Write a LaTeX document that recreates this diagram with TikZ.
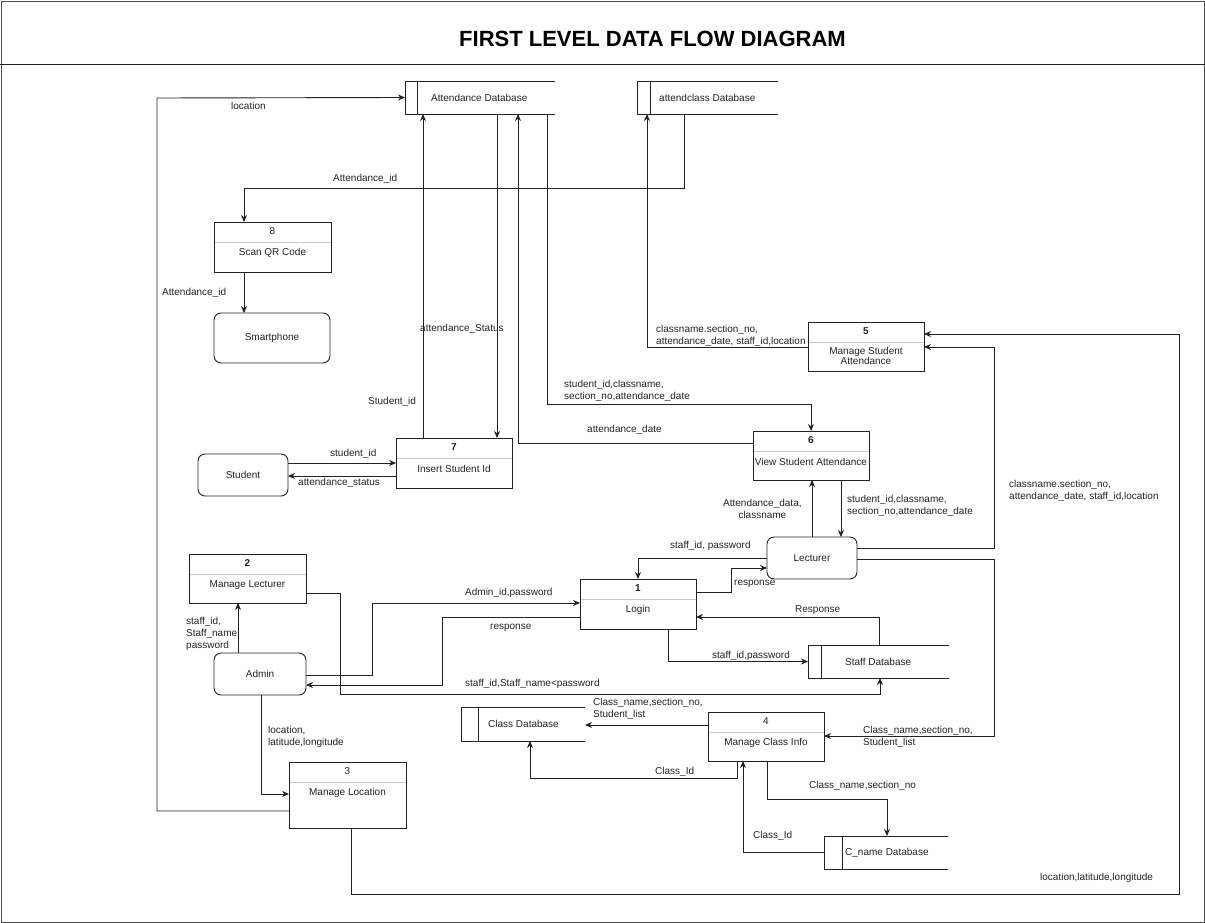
\documentclass[tikz,border=0pt]{standalone}
\usepackage{fontspec}
\setmainfont{Liberation Sans}
\usetikzlibrary{arrows.meta,calc}

\definecolor{ink}{HTML}{222222}
\definecolor{divgray}{HTML}{C8C8C8}

\tikzset{
  every node/.style={font=\fontsize{10}{12}\selectfont, text=ink},
  flow/.style={draw=ink, line width=0.9pt, -{Stealth[length=7pt,width=6pt]}},
  procbox/.style={draw=ink, line width=0.9pt, rectangle, inner sep=0pt, outer sep=0pt},
  entity/.style={draw=ink, line width=0.9pt, rectangle, rounded corners=7pt, inner sep=0pt, outer sep=0pt},
  storebox/.style={rectangle, inner sep=0pt, outer sep=0pt},
  divline/.style={draw=divgray, line width=0.9pt},
  lbl/.style={anchor=west, inner sep=0pt, align=left},
}

% process: name, cx, cy, width, height, number, title
\newcommand\dfdproc[7]{%
  \node[procbox, minimum width=#4pt, minimum height=#5pt] (#1) at (#2,#3) {};
  \draw[divline] ([yshift=-20pt,xshift=0.5pt]#1.north west) -- ([yshift=-20pt,xshift=-0.5pt]#1.north east);
  \node[inner sep=0pt] (#1-num) at ([yshift=-9.5pt]#1.north) {#6};
  \node[inner sep=0pt, align=center] (#1-title) at ([yshift=-31pt]#1.north) {#7};
}
% data store: name, cx, cy, width, height, inner offset, text x, text
\newcommand\dfdstore[8]{%
  \node[storebox, minimum width=#4pt, minimum height=#5pt] (#1) at (#2,#3) {};
  \draw[ink, line width=0.9pt] (#1.north east) -- (#1.north west) -- (#1.south west) -- (#1.south east);
  \draw[ink, line width=0.9pt] ([xshift=#6pt]#1.north west) -- ([xshift=#6pt]#1.south west);
  \node[lbl] (#1-text) at (#7,#3) {#8};
}

\begin{document}
\begin{tikzpicture}[x=1pt,y=-1pt]
\useasboundingbox (0,0) rectangle (1205,923);
\draw[ink!80, line width=0.8pt] (1,1) rectangle (1204,922);

% heading
\node[font=\fontsize{22}{26}\selectfont\bfseries, text=black] (title) at (652.5,39) {FIRST LEVEL DATA FLOW DIAGRAM};
\draw[ink, line width=0.9pt] (0,64) -- (1205,64);

% data stores
\dfdstore{adb}{480}{97.5}{150}{33}{12}{431}{Attendance Database}
\dfdstore{acdb}{707.5}{97.5}{141}{33}{13}{659}{attendclass Database}
\dfdstore{sdb}{878.5}{661.5}{141}{33}{13}{845}{Staff Database}
\dfdstore{cdb}{523}{724}{124}{34}{17}{488}{Class Database}
\dfdstore{cndb}{886}{852.5}{124}{33}{18}{845}{C\_name Database}

% processes
\dfdproc{p8}{272.5}{247}{117}{50}{8}{Scan QR Code}
\dfdproc{p7}{454}{463}{116}{50}{\textbf{7}}{Insert Student Id}
\node[procbox, minimum width=116pt, minimum height=49pt] (p5) at (866,346.5) {};
\draw[divline] ([yshift=-20pt,xshift=0.5pt]p5.north west) -- ([yshift=-20pt,xshift=-0.5pt]p5.north east);
\node[inner sep=0pt] (p5-num) at ([yshift=-9pt]p5.north) {\textbf{5}};
\node[inner sep=0pt, align=center, font=\fontsize{10}{9}\selectfont] (p5-title) at ([yshift=-34pt]p5.north) {Manage Student\\Attendance};
\dfdproc{p6}{811}{455.5}{116}{49}{\textbf{6}}{View Student Attendance}
\dfdproc{p1}{638}{604}{116}{50}{\textbf{1}}{Login}
\dfdproc{p2}{247.5}{578.5}{117}{49}{\textbf{2}}{Manage Lecturer}
\dfdproc{p3}{347.5}{795}{117}{66}{3}{Manage Location}
\dfdproc{p4}{766}{736.5}{116}{49}{4}{Manage Class Info}

% external entities
\node[entity, minimum width=116pt, minimum height=50pt] (sp) at (272,338) {Smartphone};
\node[entity, minimum width=90pt, minimum height=42pt] (stu) at (243,475) {Student};
\node[entity, minimum width=92pt, minimum height=42pt] (adm) at (260,674) {Admin};
\node[entity, minimum width=90pt, minimum height=42pt] (lec) at (812,558) {Lecturer};

% flows
\draw[flow] (p3.west |- 0,811) -- (157,811) -- (157,98) -- (adb.west);
\node[lbl] (l-loc) at (231,106) {location};

\draw[flow] (acdb.south -| 684,0) |- (244,188) -- (p8.north -| 244,0);
\node[lbl] (l-aid1) at (333,179) {Attendance\_id};

\draw[flow] (p8.south -| 244,0) -- (sp.north -| 244,0);
\node[lbl] (l-aid2) at (162,293) {Attendance\_id};

\draw[flow] (p7.north -| 423,0) -- (adb.south -| 423,0);
\node[lbl] (l-sid) at (368,402) {Student\_id};

\draw[flow] (adb.south -| 497,0) -- (p7.north -| 497,0);
\node[lbl] (l-ast) at (420,329) {attendance\_Status};

\draw[flow] (p6.west |- 0,443) -| (adb.south -| 518,0);
\node[lbl] (l-adate) at (587,430) {attendance\_date};

\draw[flow] (adb.south -| 547,0) -- (547,404) -| (p6.north);
\node[lbl] (l-sc1) at (564,391) {student\_id,classname,\\section\_no,attendance\_date};

\draw[flow] (p5.west |- 0,347) -| (acdb.south -| 647,0);
\node[lbl] (l-cs1) at (656,336) {classname.section\_no,\\attendance\_date, staff\_id,location};

\draw[flow] (lec.east |- 0,548) -| (994,347) -- (p5.east |- 0,347);
\node[lbl] (l-cs2) at (1009,491) {classname.section\_no,\\attendance\_date, staff\_id,location};

\draw[flow] (p3.south -| 351,0) |- (1179,894) -- (1179,334) -- (p5.east |- 0,334);
\node[lbl] (l-lll) at (1040,878) {location,latitude,longitude};

\draw[flow] (lec.north -| 812,0) -- (p6.south -| 812,0);
\node[anchor=west, inner sep=0pt, align=center] (l-adata) at (723,509) {Attendance\_data,\\ classname};

\draw[flow] (p6.south -| 841,0) -- (lec.north -| 841,0);
\node[lbl] (l-sc2) at (847,506) {student\_id,classname,\\section\_no,attendance\_date};

\draw[flow] (lec.west) -| (p1.north);
\node[lbl] (l-sp1) at (670,546) {staff\_id, password};

\draw[flow] (p1.east |- 0,592) -| (731,568) -- (lec.west |- 0,568);
\node[lbl] (l-resp1) at (734,584) {response};

\draw[flow] (sdb.north -| 879,0) |- (p1.east |- 0,617);
\node[lbl] (l-resp2) at (795,610) {Response};

\draw[flow] (p1.south -| 668,0) |- (sdb.west);
\node[lbl] (l-sp2) at (712,656) {staff\_id,password};

\draw[flow] (p2.east |- 0,593) -| (340,694) -| (sdb.south -| 880,0);
\node[lbl] (l-ssp) at (465,684) {staff\_id,Staff\_name<password};

\draw[flow] (adm.east |- 0,675) -| (372,603) -- (p1.west |- 0,603);
\node[lbl] (l-aidp) at (465,593) {Admin\_id,password};

\draw[flow] (p1.west |- 0,617) -| (442,685) -- (adm.east |- 0,685);
\node[lbl] (l-resp3) at (490,628) {response};

\draw[flow] (adm.north -| 238,0) -- (p2.south -| 238,0);
\node[lbl] (l-snp) at (186,634) {staff\_id,\\Staff\_name,\\password};

\draw[flow] (adm.south -| 261,0) |- (p3.west |- 0,794);
\node[lbl] (l-ll) at (268,737) {location,\\latitude,longitude};

\draw[flow] (stu.east |- 0,463) -- (p7.west |- 0,463);
\node[lbl] (l-stid) at (330,454) {student\_id};

\draw[flow] (p7.west |- 0,476) -- (stu.east |- 0,476);
\node[lbl] (l-ast2) at (298,483) {attendance\_status};

\draw[flow] (lec.east |- 0,559) -| (994,736) -- (p4.east |- 0,736);
\node[lbl] (l-cn1) at (863,737) {Class\_name,section\_no,\\Student\_list};

\draw[flow] (p4.west |- 0,725) -- (cdb.east |- 0,725);
\node[lbl] (l-cn2) at (593,708.5) {Class\_name,section\_no,\\Student\_list};

\draw[flow] (p4.south -| 737,0) |- (530,778) -- (cdb.south -| 530,0);
\node[lbl] (l-cid1) at (655,772) {Class\_Id};

\draw[flow] (p4.south -| 767,0) |- (887,799) -- (cndb.north -| 887,0);
\node[lbl] (l-cns) at (809,786) {Class\_name,section\_no};

\draw[flow] (cndb.west) -| (p4.south -| 743,0);
\node[lbl] (l-cid2) at (753,836) {Class\_Id};
\end{tikzpicture}
\end{document}
